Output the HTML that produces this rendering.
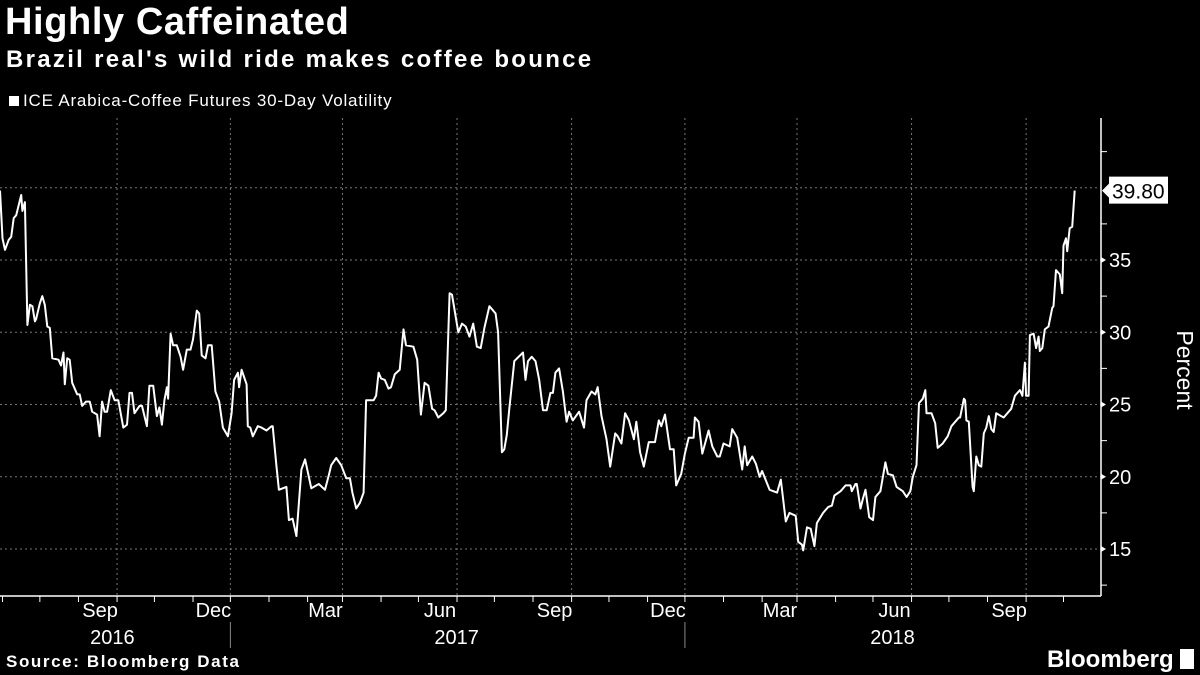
<!DOCTYPE html>
<html><head><meta charset="utf-8"><style>
html,body{margin:0;padding:0;background:#000;}
body{width:1200px;height:675px;overflow:hidden;position:relative;font-family:"Liberation Sans Narrow","Liberation Sans",sans-serif;color:#fff;}
.t{position:absolute;white-space:nowrap;}
</style></head><body>
<div class="t" style="left:5px;top:1px;font-size:38px;letter-spacing:0.6px;font-weight:bold;font-family:'Liberation Sans',sans-serif;">Highly Caffeinated</div>
<div class="t" style="left:6px;top:46px;font-size:24px;letter-spacing:2.3px;font-weight:bold;font-family:'Liberation Sans',sans-serif;">Brazil real's wild ride makes coffee bounce</div>
<div class="t" style="left:9px;top:91px;font-size:17px;letter-spacing:0.8px;"><span style="display:inline-block;width:10px;height:10px;background:#fff;margin-right:4px;"></span>ICE Arabica-Coffee Futures 30-Day Volatility</div>
<svg id="chart" width="1200" height="675" style="position:absolute;left:0;top:0"></svg>
<div class="t" style="left:6px;top:652px;font-size:17px;letter-spacing:1.6px;font-weight:bold;font-family:'Liberation Sans',sans-serif;">Source: Bloomberg Data</div>
<div class="t" style="left:1047px;top:646px;font-size:24px;font-weight:bold;">Bloomberg <span style="display:inline-block;width:14px;height:20px;background:#fff;vertical-align:-2px;"></span></div>
<script>
const days=[0,2,4,7,9,11,13,17,18,20,22,24,26,28,29,32,34,36,38,40,42,47,49,51,52,54,56,58,62,64,66,69,72,74,78,80,82,84,86,89,92,95,99,102,104,106,108,112,114,118,120,123,126,128,130,132,134,135,137,139,142,145,147,150,153,155,158,160,162,165,167,170,173,176,179,183,186,188,191,192,194,198,199,201,203,207,210,214,218,219,222,224,227,230,232,235,238,242,245,250,256,261,264,266,270,274,278,281,283,286,289,292,294,300,302,304,306,309,312,314,317,321,324,326,332,335,338,341,344,347,349,352,356,358,361,363,368,371,374,377,380,383,386,389,393,398,400,403,405,407,409,413,420,422,424,427,430,433,436,439,442,444,446,449,452,455,457,460,465,469,471,475,478,480,483,487,490,494,496,499,502,505,509,511,514,517,521,526,529,531,534,538,541,543,547,550,553,557,558,561,564,569,572,576,578,581,586,588,592,596,598,600,604,607,610,612,618,624,627,631,634,639,641,644,645,648,651,654,656,661,665,668,670,675,679,683,684,687,688,691,693,695,698,701,703,707,709,711,713,717,720,725,728,731,733,736,738,741,743,744,748,751,753,757,761,764,770,771,774,775,776,778,781,782,784,786,788,790,792,794,796,798,800,804,806,809,812,815,819,821,823,824,826,827,830,832,834,835,837,839,842,845,846,848,851,853,854,856,857,859,861,863];
const values=[39.8,36.5,35.7,36.4,36.6,37.9,38.1,39.5,38.4,39.0,30.5,31.9,31.8,30.75,30.9,32.0,32.5,31.9,30.4,30.3,28.2,28.1,27.7,28.6,26.4,28.2,28.1,26.5,25.7,25.7,24.9,25.2,25.2,24.5,24.3,22.8,25.2,24.5,24.5,26.0,25.3,25.3,23.4,23.6,25.8,25.8,24.4,24.9,24.9,23.5,26.3,26.3,24.2,24.8,23.6,25.3,26.2,25.4,29.9,29.1,29.1,28.3,27.4,28.8,28.8,29.5,31.5,31.3,28.4,28.2,29.1,29.1,25.9,25.2,23.4,22.8,24.4,26.7,27.2,26.2,27.4,26.4,23.5,23.4,22.8,23.5,23.4,23.2,23.5,23.5,20.7,19.1,19.2,19.3,17.0,17.1,15.9,20.5,21.2,19.2,19.5,19.1,20.1,20.8,21.3,20.8,19.9,19.9,18.9,17.8,18.2,18.9,25.3,25.3,25.6,27.2,26.8,26.7,26.1,26.2,27.1,27.4,30.2,29.1,29.0,28.1,24.3,26.5,26.3,24.7,24.6,24.1,24.4,24.6,32.7,32.6,30.0,30.6,30.4,29.7,30.6,29.0,28.9,30.3,31.8,31.3,30.0,21.7,21.9,22.9,24.7,28.0,28.6,26.7,28.0,28.3,28.0,26.7,24.6,24.6,25.8,25.8,27.2,27.5,25.9,23.8,24.5,23.9,24.5,23.4,25.3,25.9,25.7,26.2,24.2,22.6,20.7,23.0,22.8,22.3,24.4,23.9,22.6,23.8,21.7,20.7,22.4,22.4,23.9,23.5,24.3,21.9,21.9,19.4,20.2,21.6,22.7,22.7,24.1,23.8,21.6,23.2,22.1,21.4,21.4,22.3,22.1,23.3,22.7,20.5,22.1,20.8,21.4,20.9,20.0,20.4,19.1,18.9,19.8,16.9,17.5,17.3,15.5,15.3,14.9,16.5,16.4,15.2,16.8,17.5,17.9,18.0,18.7,19.0,19.4,19.4,19.0,19.5,19.5,17.8,18.5,19.1,17.2,17.0,18.6,19.0,20.0,21.0,20.2,20.1,19.3,19.0,18.6,19.0,20.0,20.8,25.1,25.4,26.0,24.4,24.4,23.7,22.0,22.3,22.8,23.5,24.1,24.1,25.4,25.3,23.9,23.8,19.3,19.0,21.4,20.8,20.7,23.0,23.4,24.2,23.3,23.1,24.4,24.2,24.1,24.4,24.7,25.6,26.0,25.6,27.9,25.6,25.6,29.8,29.9,28.9,29.7,28.7,28.9,30.2,30.4,31.7,31.8,34.3,34.0,32.7,36.0,36.5,35.6,37.2,37.3,39.8];
const yTicks=[15,20,25,30,35];
const yMinor=[12.5,17.5,22.5,27.5,32.5,37.5,42.5];
const gridValues=[15,20,25,30,35,40];
const monthLabels=["Sep","Dec","Mar","Jun","Sep","Dec","Mar","Jun","Sep"];
const yearLabels=["2016","2017","2018"];
const lastLabel="39.80";

const NS="http://www.w3.org/2000/svg";
const svg=document.getElementById('chart');
const START=Date.UTC(2016,4,30);
const X=d=>d*1.2453;
const Y=v=>549-(v-15)*14.45;
const dateX=(y,m)=>X((Date.UTC(y,m,1)-START)/86400000);
function el(tag,attrs,parent){const e=document.createElementNS(NS,tag);for(const k in attrs)e.setAttribute(k,attrs[k]);(parent||svg).appendChild(e);return e;}

gridValues.forEach(v=>{
  const g=el('line',{x1:0,x2:1101,y1:Y(v),y2:Y(v),stroke:'#777','stroke-width':1,'stroke-dasharray':'2,3'});
  
  
});
const quarters=[[2016,8],[2016,11],[2017,2],[2017,5],[2017,8],[2017,11],[2018,2],[2018,5],[2018,8]];
quarters.forEach((q,i)=>{
  const x=dateX(q[0],q[1]);
  const g=el('line',{x1:x,x2:x,y1:118,y2:596,stroke:'#777','stroke-width':1,'stroke-dasharray':'2,3'});
  
  
  const t=el('text',{x:x-17,y:617,fill:'#fff','font-size':20,'text-anchor':'middle','font-family':"Liberation Sans Narrow, Liberation Sans, sans-serif"});
  t.textContent=monthLabels[i];
  
  
});
for(let m=0;m<30;m++){
  const yr=2016+Math.floor((5+m)/12), mo=(5+m)%12;
  const x=dateX(yr,mo); if(x>1100)break;
  const tk=el('line',{x1:x,x2:x,y1:596,y2:602,stroke:'#fff','stroke-width':1});
  
  
}
const yearX=[(dateX(2016,5)+dateX(2016,11))/2-4,(dateX(2016,11)+dateX(2017,11))/2-1,(dateX(2017,11)+1100)/2];
yearLabels.forEach((s,i)=>{
  const t=el('text',{x:yearX[i],y:644,fill:'#fff','font-size':20,'text-anchor':'middle','font-family':"Liberation Sans Narrow, Liberation Sans, sans-serif"});
  t.textContent=s;
  
  
});
[dateX(2016,11),dateX(2017,11)].forEach(x=>{
  const s=el('line',{x1:x,x2:x,y1:622,y2:648,stroke:'#888','stroke-width':1});
  
  
});
const xa=el('line',{x1:0,x2:1101,y1:596,y2:596,stroke:'#fff','stroke-width':1.5});


const ya=el('line',{x1:1101,x2:1101,y1:118,y2:596,stroke:'#fff','stroke-width':1.5});


yMinor.forEach(v=>{
  const tk=el('line',{x1:1101,x2:1107,y1:Y(v),y2:Y(v),stroke:'#fff','stroke-width':1});
  
  
});
yTicks.forEach(v=>{
  const tk=el('path',{d:`M1101,${Y(v)-3}L1106,${Y(v)}L1101,${Y(v)+3}Z`,fill:'#fff'});
  
  
  const t=el('text',{x:1109,y:Y(v)+7,fill:'#fff','font-size':20,'font-family':"Liberation Sans Narrow, Liberation Sans, sans-serif"});
  t.textContent=String(v);
  
  
});
const yt=el('text',{x:0,y:0,fill:'#fff','font-size':23,'text-anchor':'middle',transform:'translate(1177,370) rotate(90)','font-family':"Liberation Sans Narrow, Liberation Sans, sans-serif"});
yt.textContent='Percent';


let d='';
days.forEach((dd,i)=>{d+=(i?'L':'M')+X(dd).toFixed(1)+','+Y(values[i]).toFixed(1);});
const line=el('path',{d:d,fill:'none',stroke:'#fff','stroke-width':2,'stroke-linejoin':'round'});


const lv=values[values.length-1], ly=Y(lv);
const lb=el('path',{d:`M1102,${ly}L1109,${ly-7}L1109,${ly-14}L1168,${ly-14}L1168,${ly+13}L1109,${ly+13}L1109,${ly+7}Z`,fill:'#fff'});


const lt=el('text',{x:1112,y:ly+8,fill:'#000','font-size':21,'font-family':"Liberation Sans Narrow, Liberation Sans, sans-serif"});
lt.textContent=lastLabel;


</script>
</body></html>
